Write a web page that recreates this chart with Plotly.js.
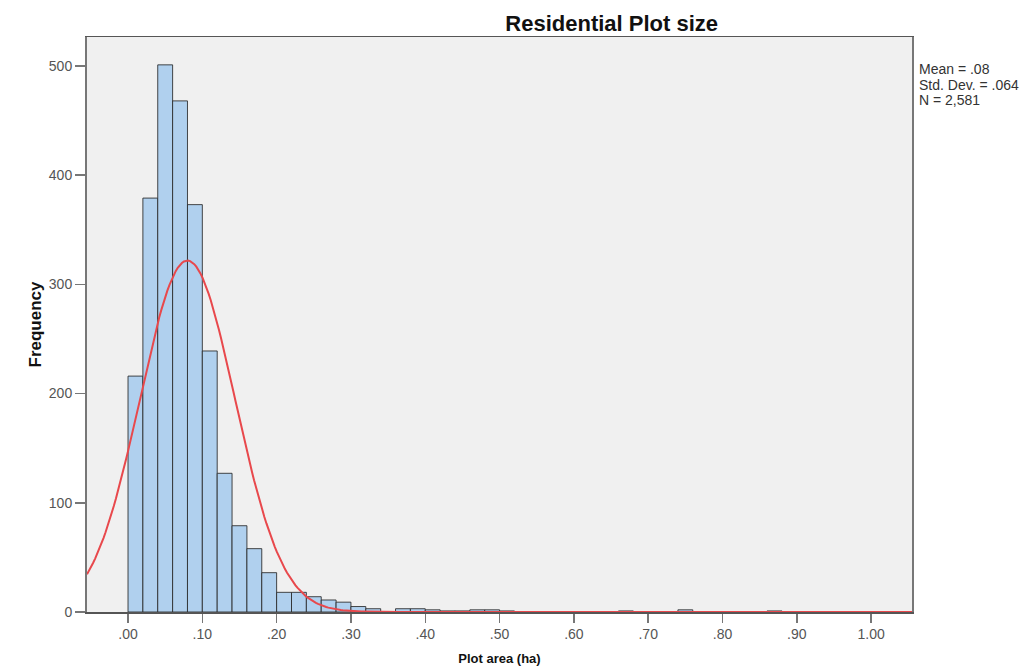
<!DOCTYPE html>
<html>
<head>
<meta charset="utf-8">
<script src="https://cdn.plot.ly/plotly-3.0.1.min.js"></script>
<style>
html,body{margin:0;padding:0;background:#fff;}
#chart{width:1036px;height:666px;}
</style>
</head>
<body>
<div id="chart"></div>
<script>
// Histogram of residential plot area (ha), bin width .02 starting at .00
const binStart = 0.0;
const binWidth = 0.02;
const counts = [216, 379, 501, 468, 373, 239, 127, 79, 58, 36,
                18, 18, 14, 11, 9, 5, 3, 0, 3, 3,
                2, 1, 1, 2, 2, 1, 0, 0, 0, 0,
                0, 0, 0, 1, 0, 0, 0, 2, 0, 0,
                0, 0, 0, 1];
// Summary statistics shown on the chart
const statMean = 0.08;
const statSD = 0.064;
const statN = 2581;
const statLabels = ["Mean = .08", "Std. Dev. = .064", "N = 2,581"];
// Axis ticks
const xTickVals = [0, 0.1, 0.2, 0.3, 0.4, 0.5, 0.6, 0.7, 0.8, 0.9, 1.0];
const xTickText = [".00", ".10", ".20", ".30", ".40", ".50", ".60", ".70", ".80", ".90", "1.00"];
const yTickVals = [0, 100, 200, 300, 400, 500];
const yTickText = ["0", "100", "200", "300", "400", "500"];

const xRange = [-0.0552, 1.055];
const yRange = [0, 526.5];

const binCenters = counts.map((c, i) => binStart + binWidth * (i + 0.5));

// Fitted normal curve (from displayed mean, SD, N)
const curveX = [];
const curveY = [];
const nPts = 400;
for (let k = 0; k <= nPts; k++) {
  const x = xRange[0] + (xRange[1] - xRange[0]) * k / nPts;
  const z = (x - statMean) / statSD;
  curveX.push(x);
  curveY.push(statN * binWidth / (statSD * Math.sqrt(2 * Math.PI)) * Math.exp(-0.5 * z * z));
}

const bars = {
  type: 'bar',
  x: binCenters,
  y: counts,
  width: binWidth,
  marker: {color: '#b0d0ee', line: {color: 'rgba(40,40,40,0.85)', width: 1}},
  hoverinfo: 'x+y',
  showlegend: false
};
const curve = {
  type: 'scatter',
  mode: 'lines',
  x: curveX,
  y: curveY,
  line: {color: '#e8484c', width: 2},
  hoverinfo: 'skip',
  showlegend: false
};

const font = "'Liberation Sans', Arial, sans-serif";
const annotations = statLabels.map((t, i) => ({
  xref: 'paper', yref: 'paper',
  x: 1.006, y: [0.944, 0.9165, 0.890][i],
  xanchor: 'left', yanchor: 'middle',
  text: t, showarrow: false,
  font: {family: font, size: 14, color: '#333'}
}));

const layout = {
  width: 1036, height: 666,
  margin: {l: 87, r: 124, t: 37, b: 54},
  paper_bgcolor: '#ffffff',
  plot_bgcolor: '#f0f0f0',
  title: {
    text: '<b>Residential Plot size</b>',
    font: {family: font, size: 22, color: '#111'},
    xref: 'paper', x: 0.636, xanchor: 'center',
    yref: 'container', y: 0.9655, yanchor: 'middle'
  },
  xaxis: {
    range: xRange,
    tickmode: 'array', tickvals: xTickVals, ticktext: xTickText,
    ticks: 'outside', ticklen: 9, tickcolor: '#777', tickwidth: 1.5,
    tickfont: {family: font, size: 14, color: '#555'},
    showgrid: false, zeroline: false,
    showline: true, linecolor: '#555', linewidth: 1.5, mirror: true,
    title: {text: '<b>Plot area (ha)</b>', font: {family: font, size: 13, color: '#111'}, standoff: 12}
  },
  yaxis: {
    range: yRange,
    tickmode: 'array', tickvals: yTickVals, ticktext: yTickText,
    ticks: 'outside', ticklen: 10, tickcolor: '#777', tickwidth: 1.5,
    tickfont: {family: font, size: 14, color: '#555'},
    showgrid: false, zeroline: false,
    showline: true, linecolor: '#777', linewidth: 2, mirror: true,
    title: {text: '<b>Frequency</b>', font: {family: font, size: 17, color: '#111'}, standoff: 3}
  },
  bargap: 0,
  annotations: annotations
};

Plotly.newPlot('chart', [bars, curve], layout, {staticPlot: true, displayModeBar: false});
</script>
</body>
</html>
